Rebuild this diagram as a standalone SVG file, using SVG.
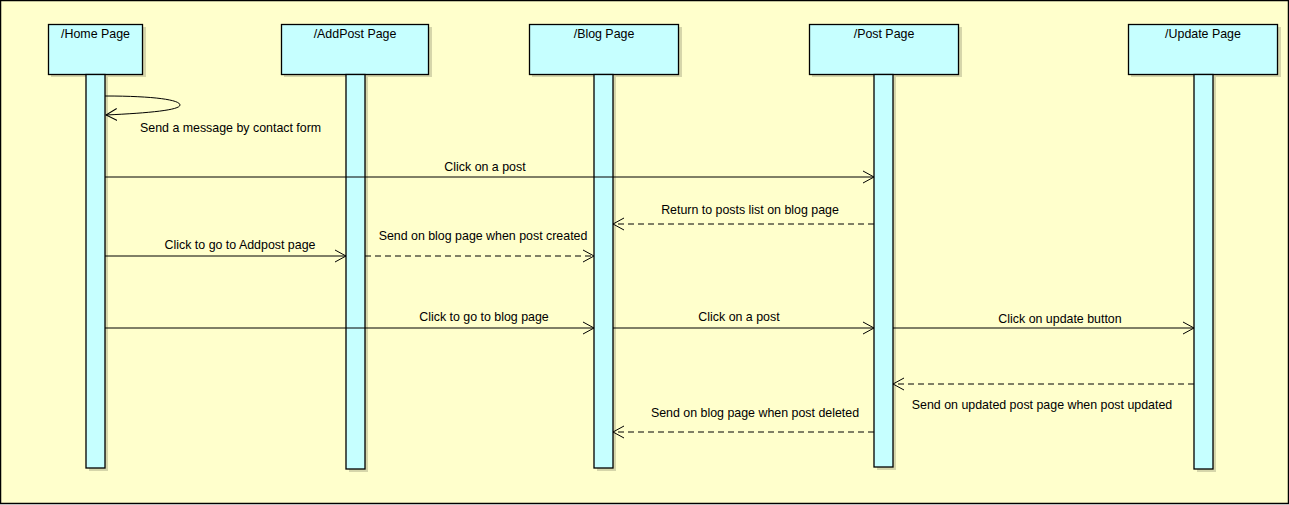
<svg xmlns="http://www.w3.org/2000/svg" width="1289" height="505" viewBox="0 0 1289 505">
<defs>
<marker id="open" markerWidth="12" markerHeight="14" refX="11" refY="7" orient="auto" markerUnits="userSpaceOnUse">
<path d="M0,1 L11,7 L0,13" fill="none" stroke="#000" stroke-width="1"/>
</marker>
</defs>
<style>
.head{fill:#C6FFFF;stroke:#000;stroke-width:1.3}
.bar{fill:#C6FFFF;stroke:#000;stroke-width:1.3}
.sh{fill:#8a8a6a;opacity:0.35}
.t{font-family:"Liberation Sans",Arial,sans-serif;font-size:12.4px;fill:#000;text-anchor:middle}
.tl{font-family:"Liberation Sans",Arial,sans-serif;font-size:12.4px;fill:#000}
.m{fill:none;stroke:#000;stroke-width:1;marker-end:url(#open)}
.d{fill:none;stroke:#000;stroke-width:1;stroke-dasharray:6,4;marker-end:url(#open)}
</style>
<rect x="0.5" y="0.5" width="1288" height="503" fill="#FFFFCC" stroke="#000" stroke-width="1.5"/>

<g id="home">
<rect class="sh" x="51" y="27" width="95" height="50"/>
<rect class="sh" x="89" y="77" width="19" height="394"/>
<rect class="head" x="48.5" y="24.5" width="94" height="50"/>
<rect class="bar" x="86" y="74.5" width="19" height="393.5"/>
<text class="t" x="95.5" y="38">/Home Page</text>
</g>
<g id="addpost">
<rect class="sh" x="284" y="27" width="148" height="50"/>
<rect class="sh" x="349" y="77" width="19" height="395"/>
<rect class="head" x="281.5" y="24.5" width="147" height="50"/>
<rect class="bar" x="346" y="74.5" width="19" height="394.5"/>
<text class="t" x="355" y="38">/AddPost Page</text>
</g>
<g id="blog">
<rect class="sh" x="532" y="27" width="150" height="50"/>
<rect class="sh" x="597" y="77" width="19" height="394"/>
<rect class="head" x="529.5" y="24.5" width="149" height="50"/>
<rect class="bar" x="594" y="74.5" width="19" height="393.5"/>
<text class="t" x="604" y="38">/Blog Page</text>
</g>
<g id="post">
<rect class="sh" x="812" y="27" width="150" height="50"/>
<rect class="sh" x="877" y="77" width="19" height="393"/>
<rect class="head" x="809.5" y="24.5" width="149" height="50"/>
<rect class="bar" x="874" y="74.5" width="19" height="392.5"/>
<text class="t" x="884" y="38">/Post Page</text>
</g>
<g id="update">
<rect class="sh" x="1131" y="27" width="150" height="50"/>
<rect class="sh" x="1197" y="77" width="19" height="395"/>
<rect class="head" x="1128.5" y="24.5" width="149" height="50"/>
<rect class="bar" x="1194" y="74.5" width="19" height="394.5"/>
<text class="t" x="1203" y="38">/Update Page</text>
</g>

<g id="connectors">
<path class="m" d="M105,96 C155,96 180,100 180,105 C180,110 150,113 106,115"/>
<text class="tl" x="140" y="132">Send a message by contact form</text>

<line class="m" x1="105" y1="177" x2="874" y2="177"/>
<text class="t" x="485" y="171">Click on a post</text>

<line class="d" x1="874" y1="224" x2="613" y2="224"/>
<text class="t" x="750" y="214">Return to posts list on blog page</text>

<line class="m" x1="105" y1="256" x2="346" y2="256"/>
<text class="t" x="240" y="249">Click to go to Addpost page</text>

<line class="d" x1="365" y1="256" x2="594" y2="256"/>
<text class="t" x="483" y="240">Send on blog page when post created</text>

<line class="m" x1="105" y1="328" x2="594" y2="328"/>
<text class="t" x="484" y="321">Click to go to blog page</text>

<line class="m" x1="613" y1="328" x2="874" y2="328"/>
<text class="t" x="739" y="321">Click on a post</text>

<line class="m" x1="893" y1="328" x2="1194" y2="328"/>
<text class="t" x="1060" y="323">Click on update button</text>

<line class="d" x1="1194" y1="384" x2="893" y2="384"/>
<text class="t" x="1042" y="409">Send on updated post page when post updated</text>

<line class="d" x1="874" y1="432" x2="613" y2="432"/>
<text class="t" x="755" y="417">Send on blog page when post deleted</text>
</g>
</svg>
